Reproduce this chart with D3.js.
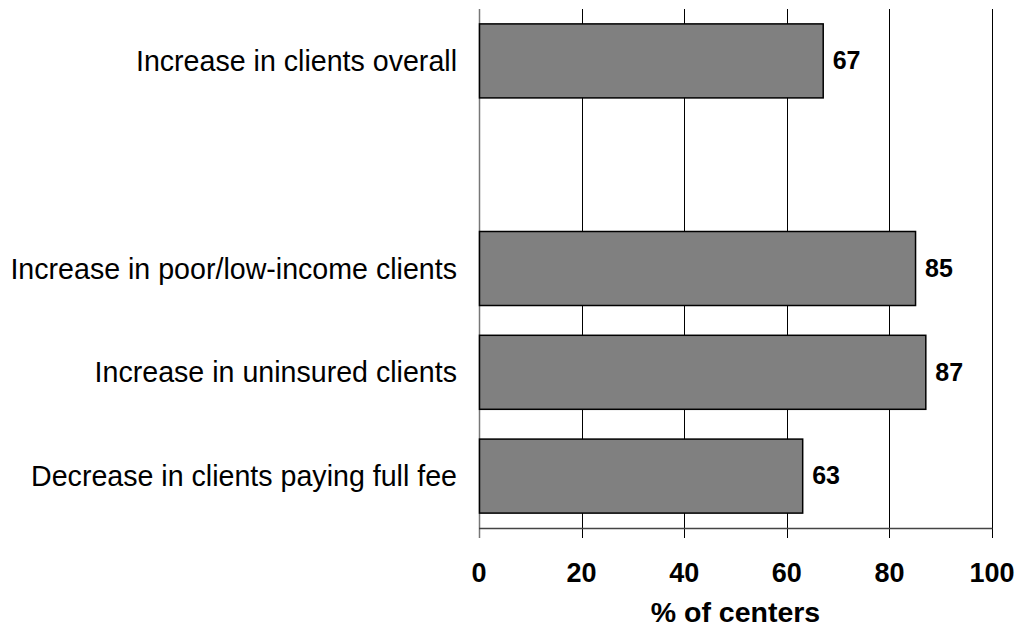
<!DOCTYPE html>
<meta charset="utf-8">
<title>% of centers</title>
<style>
body { margin: 0; background: #fff; }
svg text { font-family: Arial, "Liberation Sans", sans-serif; }
.cat { font-size: 28.6px; }
.tick-label { font-size: 27px; font-weight: bold; }
.val { font-size: 25px; font-weight: bold; }
.axis-title { font-size: 28.5px; font-weight: bold; }
</style>
<body>
<div id="chart"></div>
<script src="https://cdn.jsdelivr.net/npm/d3@7"></script>
<script>

// data
const categories = [
    "Increase in clients overall",
    "",
    "Increase in poor/low-income clients",
    "Increase in uninsured clients",
    "Decrease in clients paying full fee"
];
const values = [67, null, 85, 87, 63];
const tickValues = [0, 20, 40, 60, 80, 100];
const axisTitle = "% of centers";

const width = 1018, height = 628;
const plotLeft = 479, plotRight = 992, plotTop = 9, plotBottom = 528;

const svg = d3.select("#chart").append("svg")
    .attr("width", width)
    .attr("height", height);

const x = d3.scaleLinear().domain([0, 100]).range([plotLeft, plotRight]);
const y = d3.scaleBand()
    .domain(categories.map((c, i) => i))
    .range([plotTop, plotBottom])
    .paddingInner(0.287)
    .paddingOuter(0.1435);

// gridlines (run through the axis down to the tick ends)
svg.append("g").selectAll("line")
    .data(tickValues.slice(1))
    .enter().append("line")
    .attr("x1", d => Math.round(x(d)) + 0.5)
    .attr("x2", d => Math.round(x(d)) + 0.5)
    .attr("y1", plotTop)
    .attr("y2", plotBottom + 10)
    .attr("stroke", "#000")
    .attr("stroke-width", 1);

// left axis line
svg.append("line")
    .attr("x1", plotLeft + 0.5).attr("x2", plotLeft + 0.5)
    .attr("y1", plotTop).attr("y2", plotBottom + 10)
    .attr("stroke", "#777").attr("stroke-width", 1.5);

// bottom axis line
svg.append("line")
    .attr("x1", plotLeft).attr("x2", plotRight + 0.5)
    .attr("y1", plotBottom + 0.5).attr("y2", plotBottom + 0.5)
    .attr("stroke", "#444").attr("stroke-width", 1.5);

// tick labels
svg.append("g").selectAll("text")
    .data(tickValues)
    .enter().append("text")
    .attr("class", "tick-label")
    .attr("x", d => x(d))
    .attr("y", 582)
    .attr("text-anchor", "middle")
    .text(d => d);

svg.append("text")
    .attr("class", "axis-title")
    .attr("x", (plotLeft + plotRight) / 2)
    .attr("y", 622)
    .attr("text-anchor", "middle")
    .text(axisTitle);

const rows = categories.map((c, i) => ({ i: i, name: c, v: values[i] }));

// bars
svg.append("g").selectAll("rect")
    .data(rows.filter(d => d.v != null))
    .enter().append("rect")
    .attr("x", x(0) + 0.5)
    .attr("y", d => y(d.i))
    .attr("width", d => x(d.v) - x(0))
    .attr("height", y.bandwidth())
    .attr("fill", "#808080")
    .attr("stroke", "#000")
    .attr("stroke-width", 1.5);

// value labels
svg.append("g").selectAll("text")
    .data(rows.filter(d => d.v != null))
    .enter().append("text")
    .attr("class", "val")
    .attr("x", d => x(d.v) + 10)
    .attr("y", d => y(d.i) + y.bandwidth() / 2)
    .attr("dy", "0.33em")
    .text(d => d.v);

// category labels
svg.append("g").selectAll("text")
    .data(rows.filter(d => d.name !== ""))
    .enter().append("text")
    .attr("class", "cat")
    .attr("x", plotLeft - 22)
    .attr("y", d => y(d.i) + y.bandwidth() / 2)
    .attr("dy", "0.35em")
    .attr("text-anchor", "end")
    .text(d => d.name);

</script>
</body>
